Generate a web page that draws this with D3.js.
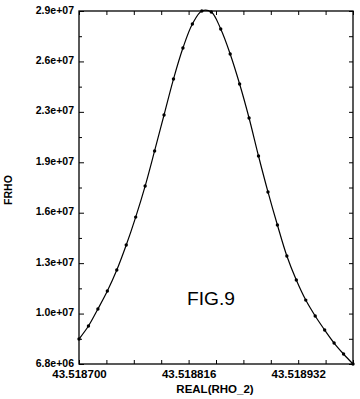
<!DOCTYPE html>
<html><head><meta charset="utf-8">
<script src="https://cdn.jsdelivr.net/npm/d3@7/dist/d3.min.js"></script>
<style>html,body{margin:0;padding:0;background:#fff;}svg{display:block;}</style>
</head><body>
<svg id="c" width="360" height="399"></svg>
<script>
// ---- data ----
const xValues = [43.518700,43.518710,43.518720,43.518730,43.518740,43.518750,43.518760,43.518770,43.518780,43.518790,
                 43.518800,43.518810,43.518820,43.518830,43.518840,43.518850,43.518860,43.518870,43.518880,43.518890,
                 43.518900,43.518910,43.518920,43.518930,43.518940,43.518950,43.518960,43.518970,43.518980,43.518990];
const frho = [8.37e6,9.19e6,1.026e7,1.139e7,1.271e7,1.428e7,1.604e7,1.799e7,2.020e7,2.246e7,
              2.472e7,2.667e7,2.818e7,2.900e7,2.894e7,2.787e7,2.630e7,2.441e7,2.227e7,1.988e7,
              1.762e7,1.554e7,1.359e7,1.208e7,1.082e7,9.82e6,8.94e6,8.12e6,7.43e6,6.80e6];
const xDomain = [43.518700, 43.518990];
const yDomain = [6.8e6, 2.9e7];
const xTickLabels = ["43.518700","43.518816","43.518932"];
const xTickValues = [43.518700, 43.518816, 43.518932];
const yTickLabels = ["6.8e+06","1.0e+07","1.3e+07","1.6e+07","1.9e+07","2.3e+07","2.6e+07","2.9e+07"];
const xTitle = "REAL(RHO_2)";
const yTitle = "FRHO";
const figLabel = "FIG.9";

const svg = d3.select("#c");
const L = 79, R = 353, T = 11, B = 364;
const x = d3.scaleLinear().domain(xDomain).range([L, R]);
const y = d3.scaleLinear().domain(yDomain).range([B, T]);
const font = "'Liberation Sans', Arial, sans-serif";

const ySteps = yTickLabels.length - 1;
const yTickValues = yTickLabels.map((_, i) => yDomain[0] + i * (yDomain[1] - yDomain[0]) / ySteps);
const yMinor = d3.range(ySteps).map(i => yDomain[0] + (i + 0.5) * (yDomain[1] - yDomain[0]) / ySteps);
const xAllTicks = d3.range(11).map(i => xDomain[0] + i * (xDomain[1] - xDomain[0]) / 10);

const fmtY = v => yTickLabels[yTickValues.findIndex(t => Math.abs(t - v) < 1)];
const fmtX = v => { const k = xTickValues.findIndex(t => Math.abs(t - v) < 1e-9); return k >= 0 ? xTickLabels[k] : ""; };

function styleAxis(size) {
  return g => {
    g.select(".domain").remove();
    g.selectAll("line").attr("stroke", "#000").attr("stroke-width", 1);
    g.selectAll("text").attr("font-family", font).attr("font-weight", "bold").attr("font-size", size).attr("fill", "#000");
  };
}

const yAx = svg.append("g").attr("transform", `translate(${L},0)`)
  .call(d3.axisLeft(y).tickValues(yTickValues).tickSizeInner(-5).tickSizeOuter(0).tickPadding(5).tickFormat(fmtY))
  .call(styleAxis(10.5));
yAx.selectAll("text").attr("dy", "0.2em");
svg.append("g").attr("transform", `translate(${L},0)`)
  .call(d3.axisLeft(y).tickValues(yMinor).tickSizeInner(-3).tickSizeOuter(0).tickFormat(""))
  .call(styleAxis(10.5));
svg.append("g").attr("transform", `translate(${R},0)`)
  .call(d3.axisRight(y).tickValues(yTickValues.concat(yMinor)).tickSizeInner(-4).tickSizeOuter(0).tickFormat(""))
  .call(styleAxis(10.5));
svg.append("g").attr("transform", `translate(0,${B})`)
  .call(d3.axisBottom(x).tickValues(xAllTicks).tickSizeInner(-4).tickSizeOuter(0).tickPadding(6).tickFormat(fmtX))
  .call(styleAxis(11.5));
svg.append("g").attr("transform", `translate(0,${T})`)
  .call(d3.axisTop(x).tickValues(xAllTicks).tickSizeInner(-4).tickSizeOuter(0).tickFormat(""))
  .call(styleAxis(10.5));

svg.append("rect").attr("x", L).attr("y", T).attr("width", R - L).attr("height", B - T)
  .attr("fill", "none").attr("stroke", "#000").attr("stroke-width", 1.3);

const pts = xValues.map((v, i) => [v, frho[i]]);
svg.append("path").datum(pts)
  .attr("fill", "none").attr("stroke", "#000").attr("stroke-width", 1.2)
  .attr("d", d3.line().x(d => x(d[0])).y(d => y(d[1])).curve(d3.curveCatmullRom));
svg.append("g").selectAll("circle").data(pts).join("circle")
  .attr("cx", d => x(d[0])).attr("cy", d => y(d[1])).attr("r", 1.7).attr("fill", "#000");

svg.append("text").attr("x", 215).attr("y", 393).attr("text-anchor", "middle")
  .attr("font-family", font).attr("font-weight", "bold").attr("font-size", 11.5).text(xTitle);
svg.append("text").attr("transform", "translate(12,190) rotate(-90)").attr("text-anchor", "middle")
  .attr("font-family", font).attr("font-weight", "bold").attr("font-size", 10.5).text(yTitle);
svg.append("text").attr("x", 187).attr("y", 305)
  .attr("font-family", font).attr("font-size", 18).attr("textLength", 48).attr("lengthAdjust", "spacingAndGlyphs")
  .text(figLabel);
</script>
</body></html>
